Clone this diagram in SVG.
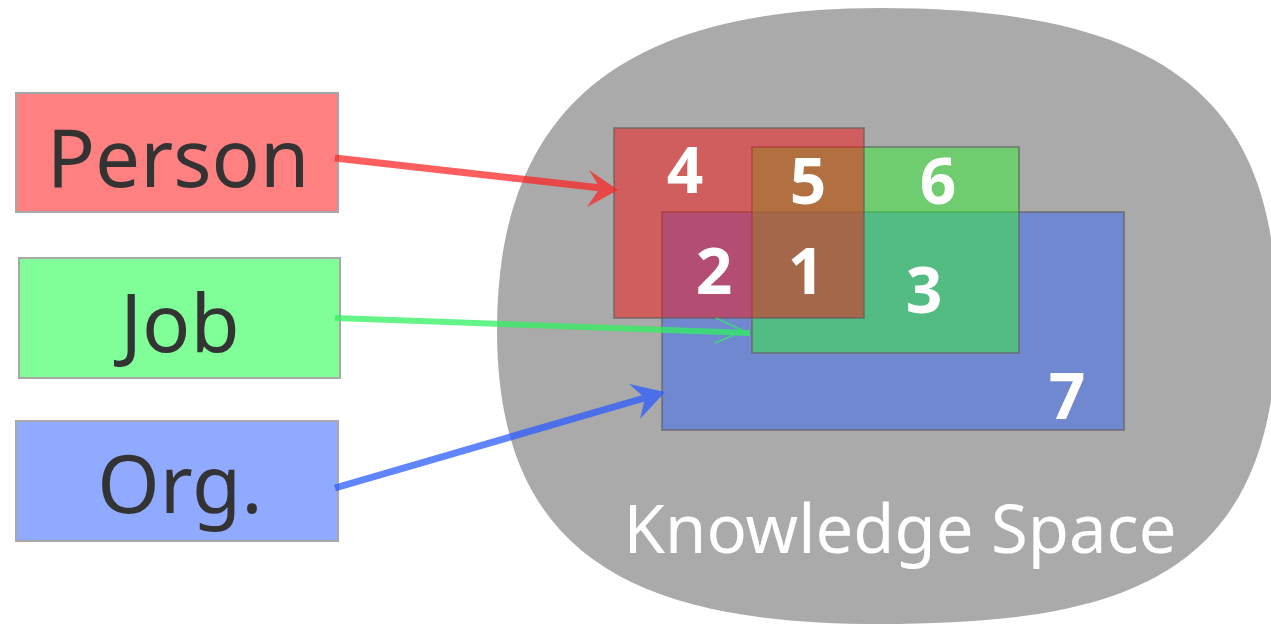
<svg xmlns="http://www.w3.org/2000/svg" width="1271" height="625" viewBox="0 0 1271 625">
  <style>
    .box { stroke: #a8a8a8; stroke-width: 2; }
    .label { font-family: "Noto Sans", "DejaVu Sans", sans-serif; font-size: 80px; fill: #333333; text-anchor: middle; }
    .set { stroke: #606060; stroke-opacity: 0.6; stroke-width: 2; fill-opacity: 0.5; }
    .num { font-family: "Noto Sans", "DejaVu Sans", sans-serif; font-weight: bold; font-size: 64px; fill: #ffffff; text-anchor: middle; }
    .space { font-family: "Noto Sans", "DejaVu Sans", sans-serif; font-size: 67px; fill: #ffffff; text-anchor: middle; }
    .link { fill: none; stroke-linecap: butt; }
  </style>

  <!-- knowledge space background -->
  <g id="knowledge-space">
    <path d="M 880,8 C 1180,8 1277,110 1277,320 C 1277,580 1120,624 880,624 C 640,624 497,560 497,330 C 497,110 620,8 880,8 Z" fill="#aaaaaa"/>
    <text class="space" x="900" y="553">Knowledge Space</text>
  </g>

  <!-- overlapping sets: blue bottom, green middle, red top -->
  <g id="set-org">
    <rect class="set" x="662" y="212" width="462" height="218" fill="#3666f6"/>
  </g>
  <g id="set-job">
    <rect class="set" x="752" y="147" width="267" height="206" fill="#34f034"/>
  </g>
  <g id="set-person">
    <rect class="set" x="614" y="128" width="250" height="190" fill="#f61212"/>
  </g>

  <g id="region-labels">
    <text class="num" x="685" y="193">4</text>
    <text class="num" x="808" y="204">5</text>
    <text class="num" x="938" y="204">6</text>
    <text class="num" x="714" y="294">2</text>
    <text class="num" x="806" y="294">1</text>
    <text class="num" x="924" y="313">3</text>
    <text class="num" x="1067" y="419">7</text>
  </g>

  <!-- source nodes -->
  <g id="node-person">
    <rect class="box" x="16" y="93" width="322" height="119" fill="#ff8080"/>
    <text class="label" x="178" y="187">Person</text>
  </g>
  <g id="node-job">
    <rect class="box" x="19" y="258" width="321" height="120" fill="#80ff99"/>
    <text class="label" x="180" y="352">Job</text>
  </g>
  <g id="node-org">
    <rect class="box" x="16" y="421" width="322" height="120" fill="#90aaff"/>
    <text class="label" x="180" y="513">Org.</text>
  </g>

  <!-- connectors -->
  <g id="connectors">
    <g opacity="0.72">
      <path class="link" d="M 335,158 L 601,188" stroke="#ff2020" stroke-width="7"/>
      <path d="M 618,190 L 589,170 L 600,188 L 587,207 Z" fill="#ff2020"/>
    </g>
    <g opacity="0.75">
      <path class="link" d="M 335,318 L 750,333" stroke="#30f060" stroke-width="6"/>
      <path class="link" d="M 716,318 L 744,331 L 715,343" stroke="#30f060" stroke-width="1.5"/>
    </g>
    <g opacity="0.75">
      <path class="link" d="M 335,488 L 648,397" stroke="#2a5cff" stroke-width="7"/>
      <path d="M 665,392 L 629,384 L 645,398 L 640,419 Z" fill="#2a5cff"/>
    </g>
  </g>
</svg>
